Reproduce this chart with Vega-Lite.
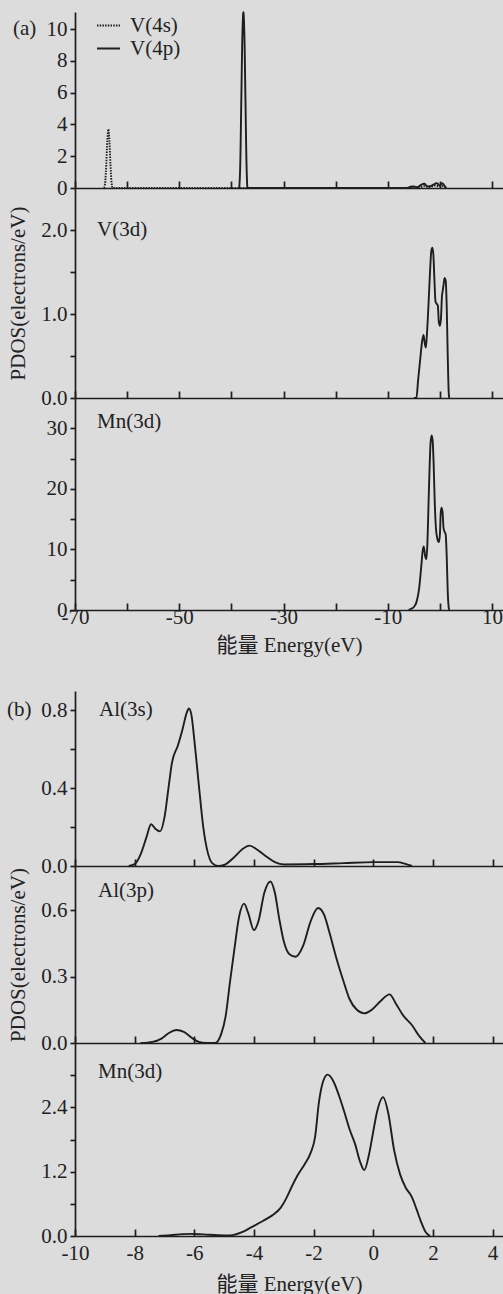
{
  "$schema": "https://vega.github.io/schema/vega-lite/v6.json",
  "background": "#dcdcdc",
  "padding": {"left": 7, "top": 8, "right": 0, "bottom": 0},
  "config": {
    "view": {"stroke": null},
    "font": "Liberation Serif",
    "axis": {"domainColor": "#1e1e1e", "domainWidth": 1.7, "tickColor": "#1e1e1e", "tickWidth": 1.7, "labelColor": "#222", "labelFont": "Liberation Serif", "labelFontSize": 21, "titleFont": "Liberation Serif", "titleFontSize": 21, "titleFontWeight": "normal", "titleColor": "#222", "grid": false, "labelOverlap": false},
    "axisX": {"tickSize": -7, "labelPadding": 4, "labelFlush": false, "labelOverlap": false},
    "axisY": {"tickSize": 5, "labelPadding": 3, "labelOverlap": false},
    "text": {"font": "Liberation Serif", "fontSize": 21, "color": "#222"},
    "line": {"color": "#1e1e1e", "strokeWidth": 1.9, "interpolate": "monotone"}
  },
  "datasets": {
    "a1": [
      {"orbital": "V(4s)", "energy": -64.4, "pdos": 0},
      {"orbital": "V(4s)", "energy": -64.2, "pdos": 0.4},
      {"orbital": "V(4s)", "energy": -64.0, "pdos": 1.5},
      {"orbital": "V(4s)", "energy": -63.8, "pdos": 3.0},
      {"orbital": "V(4s)", "energy": -63.6, "pdos": 3.7},
      {"orbital": "V(4s)", "energy": -63.4, "pdos": 3.0},
      {"orbital": "V(4s)", "energy": -63.2, "pdos": 1.5},
      {"orbital": "V(4s)", "energy": -63.0, "pdos": 0.4},
      {"orbital": "V(4s)", "energy": -62.8, "pdos": 0},
      {"orbital": "V(4s)", "energy": -6.4, "pdos": 0},
      {"orbital": "V(4s)", "energy": -5.2, "pdos": 0.06},
      {"orbital": "V(4s)", "energy": -4.0, "pdos": 0.04},
      {"orbital": "V(4s)", "energy": -3.0, "pdos": 0.12},
      {"orbital": "V(4s)", "energy": -2.0, "pdos": 0.06},
      {"orbital": "V(4s)", "energy": -1.0, "pdos": 0.15},
      {"orbital": "V(4s)", "energy": 0.0, "pdos": 0.1},
      {"orbital": "V(4s)", "energy": 0.6, "pdos": 0.12},
      {"orbital": "V(4s)", "energy": 1.2, "pdos": 0},
      {"orbital": "V(4p)", "energy": -38.5, "pdos": 0},
      {"orbital": "V(4p)", "energy": -38.3, "pdos": 1.5},
      {"orbital": "V(4p)", "energy": -38.1, "pdos": 5.5},
      {"orbital": "V(4p)", "energy": -37.9, "pdos": 9.5},
      {"orbital": "V(4p)", "energy": -37.7, "pdos": 11.05},
      {"orbital": "V(4p)", "energy": -37.5, "pdos": 9.5},
      {"orbital": "V(4p)", "energy": -37.3, "pdos": 5.5},
      {"orbital": "V(4p)", "energy": -37.1, "pdos": 1.5},
      {"orbital": "V(4p)", "energy": -36.9, "pdos": 0},
      {"orbital": "V(4p)", "energy": -6.4, "pdos": 0},
      {"orbital": "V(4p)", "energy": -5.6, "pdos": 0.08},
      {"orbital": "V(4p)", "energy": -5.0, "pdos": 0.1},
      {"orbital": "V(4p)", "energy": -4.4, "pdos": 0.05},
      {"orbital": "V(4p)", "energy": -3.6, "pdos": 0.2},
      {"orbital": "V(4p)", "energy": -3.0, "pdos": 0.27},
      {"orbital": "V(4p)", "energy": -2.4, "pdos": 0.1},
      {"orbital": "V(4p)", "energy": -1.6, "pdos": 0.15},
      {"orbital": "V(4p)", "energy": -0.6, "pdos": 0.3},
      {"orbital": "V(4p)", "energy": 0.0, "pdos": 0.15},
      {"orbital": "V(4p)", "energy": 0.4, "pdos": 0.3},
      {"orbital": "V(4p)", "energy": 0.8, "pdos": 0.18},
      {"orbital": "V(4p)", "energy": 1.2, "pdos": 0}
    ],
    "a2": [
      {"energy": -5.0, "pdos": 0}, {"energy": -4.5, "pdos": 0.0}, {"energy": -4.2, "pdos": 0.2},
      {"energy": -3.8, "pdos": 0.45}, {"energy": -3.4, "pdos": 0.68}, {"energy": -3.15, "pdos": 0.75},
      {"energy": -2.9, "pdos": 0.65}, {"energy": -2.7, "pdos": 0.6}, {"energy": -2.5, "pdos": 0.75},
      {"energy": -2.2, "pdos": 1.1}, {"energy": -1.9, "pdos": 1.5}, {"energy": -1.65, "pdos": 1.75},
      {"energy": -1.45, "pdos": 1.79}, {"energy": -1.25, "pdos": 1.7}, {"energy": -1.05, "pdos": 1.4},
      {"energy": -0.85, "pdos": 1.15}, {"energy": -0.6, "pdos": 1.12}, {"energy": -0.4, "pdos": 1.1},
      {"energy": -0.2, "pdos": 0.9}, {"energy": 0.0, "pdos": 0.86}, {"energy": 0.2, "pdos": 0.95},
      {"energy": 0.4, "pdos": 1.22}, {"energy": 0.5, "pdos": 1.26}, {"energy": 0.7, "pdos": 1.35},
      {"energy": 0.9, "pdos": 1.43}, {"energy": 1.1, "pdos": 1.4}, {"energy": 1.3, "pdos": 1.1},
      {"energy": 1.5, "pdos": 0.5}, {"energy": 1.7, "pdos": 0.05}, {"energy": 1.8, "pdos": 0}
    ],
    "a3": [
      {"energy": -6.0, "pdos": 0}, {"energy": -5.5, "pdos": 0.2}, {"energy": -5.0, "pdos": 0.5},
      {"energy": -4.5, "pdos": 1.3}, {"energy": -4.0, "pdos": 3.5}, {"energy": -3.6, "pdos": 7},
      {"energy": -3.3, "pdos": 9.8}, {"energy": -3.1, "pdos": 10.5}, {"energy": -2.85, "pdos": 9.0},
      {"energy": -2.6, "pdos": 8.4}, {"energy": -2.4, "pdos": 11}, {"energy": -2.2, "pdos": 17},
      {"energy": -2.0, "pdos": 23}, {"energy": -1.8, "pdos": 27.5}, {"energy": -1.6, "pdos": 28.8},
      {"energy": -1.4, "pdos": 28}, {"energy": -1.2, "pdos": 24}, {"energy": -1.0, "pdos": 18},
      {"energy": -0.8, "pdos": 14}, {"energy": -0.5, "pdos": 11.8}, {"energy": -0.2, "pdos": 11.2},
      {"energy": 0.0, "pdos": 12.5}, {"energy": 0.15, "pdos": 16}, {"energy": 0.3, "pdos": 16.9},
      {"energy": 0.5, "pdos": 16.2}, {"energy": 0.7, "pdos": 13.5}, {"energy": 0.9, "pdos": 12.9},
      {"energy": 1.1, "pdos": 12.5}, {"energy": 1.3, "pdos": 9}, {"energy": 1.5, "pdos": 3},
      {"energy": 1.7, "pdos": 0.3}, {"energy": 1.8, "pdos": 0}
    ],
    "b1": [
      {"energy": -8.2, "pdos": 0}, {"energy": -8.0, "pdos": 0.01}, {"energy": -7.8, "pdos": 0.06},
      {"energy": -7.6, "pdos": 0.15}, {"energy": -7.45, "pdos": 0.215}, {"energy": -7.3, "pdos": 0.19},
      {"energy": -7.15, "pdos": 0.178}, {"energy": -7.0, "pdos": 0.25}, {"energy": -6.85, "pdos": 0.42},
      {"energy": -6.75, "pdos": 0.53}, {"energy": -6.55, "pdos": 0.62}, {"energy": -6.4, "pdos": 0.7},
      {"energy": -6.25, "pdos": 0.79}, {"energy": -6.18, "pdos": 0.81}, {"energy": -6.1, "pdos": 0.78},
      {"energy": -6.0, "pdos": 0.65}, {"energy": -5.85, "pdos": 0.42}, {"energy": -5.7, "pdos": 0.2},
      {"energy": -5.55, "pdos": 0.07}, {"energy": -5.4, "pdos": 0.015}, {"energy": -5.2, "pdos": 0.0},
      {"energy": -5.0, "pdos": 0.005}, {"energy": -4.7, "pdos": 0.04}, {"energy": -4.4, "pdos": 0.085},
      {"energy": -4.15, "pdos": 0.105}, {"energy": -3.9, "pdos": 0.085}, {"energy": -3.6, "pdos": 0.05},
      {"energy": -3.3, "pdos": 0.02}, {"energy": -3.0, "pdos": 0.008}, {"energy": -2.0, "pdos": 0.01},
      {"energy": -1.0, "pdos": 0.015}, {"energy": 0.0, "pdos": 0.02}, {"energy": 0.8, "pdos": 0.02},
      {"energy": 1.1, "pdos": 0.01}, {"energy": 1.3, "pdos": 0}
    ],
    "b2": [
      {"energy": -7.8, "pdos": 0}, {"energy": -7.4, "pdos": 0.005}, {"energy": -7.1, "pdos": 0.02},
      {"energy": -6.85, "pdos": 0.045}, {"energy": -6.6, "pdos": 0.059}, {"energy": -6.35, "pdos": 0.05},
      {"energy": -6.1, "pdos": 0.025}, {"energy": -5.85, "pdos": 0.005}, {"energy": -5.6, "pdos": 0},
      {"energy": -5.3, "pdos": 0}, {"energy": -5.1, "pdos": 0.04}, {"energy": -4.95, "pdos": 0.12},
      {"energy": -4.8, "pdos": 0.28}, {"energy": -4.65, "pdos": 0.43}, {"energy": -4.5, "pdos": 0.57},
      {"energy": -4.33, "pdos": 0.63}, {"energy": -4.2, "pdos": 0.59}, {"energy": -4.0, "pdos": 0.51},
      {"energy": -3.85, "pdos": 0.55}, {"energy": -3.65, "pdos": 0.68}, {"energy": -3.45, "pdos": 0.73},
      {"energy": -3.3, "pdos": 0.68}, {"energy": -3.15, "pdos": 0.56}, {"energy": -3.0, "pdos": 0.46},
      {"energy": -2.8, "pdos": 0.4}, {"energy": -2.6, "pdos": 0.39}, {"energy": -2.35, "pdos": 0.44},
      {"energy": -2.1, "pdos": 0.55}, {"energy": -1.85, "pdos": 0.61}, {"energy": -1.65, "pdos": 0.58},
      {"energy": -1.45, "pdos": 0.49}, {"energy": -1.25, "pdos": 0.39}, {"energy": -1.0, "pdos": 0.28},
      {"energy": -0.8, "pdos": 0.2}, {"energy": -0.55, "pdos": 0.15}, {"energy": -0.3, "pdos": 0.134},
      {"energy": -0.05, "pdos": 0.15}, {"energy": 0.25, "pdos": 0.19}, {"energy": 0.55, "pdos": 0.22},
      {"energy": 0.75, "pdos": 0.18}, {"energy": 1.0, "pdos": 0.125}, {"energy": 1.3, "pdos": 0.08},
      {"energy": 1.55, "pdos": 0.03}, {"energy": 1.75, "pdos": 0}
    ],
    "b3": [
      {"energy": -7.2, "pdos": 0}, {"energy": -6.8, "pdos": 0.015}, {"energy": -6.4, "pdos": 0.035},
      {"energy": -6.1, "pdos": 0.04}, {"energy": -5.7, "pdos": 0.03}, {"energy": -5.2, "pdos": 0.015},
      {"energy": -4.8, "pdos": 0.01}, {"energy": -4.4, "pdos": 0.07}, {"energy": -4.1, "pdos": 0.16},
      {"energy": -3.7, "pdos": 0.28}, {"energy": -3.4, "pdos": 0.38}, {"energy": -3.1, "pdos": 0.53},
      {"energy": -2.9, "pdos": 0.72}, {"energy": -2.75, "pdos": 0.9}, {"energy": -2.55, "pdos": 1.12},
      {"energy": -2.3, "pdos": 1.34}, {"energy": -2.1, "pdos": 1.55}, {"energy": -1.95, "pdos": 1.85},
      {"energy": -1.82, "pdos": 2.5}, {"energy": -1.7, "pdos": 2.85}, {"energy": -1.53, "pdos": 3.01},
      {"energy": -1.35, "pdos": 2.9}, {"energy": -1.15, "pdos": 2.62}, {"energy": -0.98, "pdos": 2.33},
      {"energy": -0.8, "pdos": 2.0}, {"energy": -0.6, "pdos": 1.7}, {"energy": -0.45, "pdos": 1.4},
      {"energy": -0.3, "pdos": 1.23}, {"energy": -0.15, "pdos": 1.5}, {"energy": 0.0, "pdos": 1.95},
      {"energy": 0.12, "pdos": 2.3}, {"energy": 0.33, "pdos": 2.59}, {"energy": 0.5, "pdos": 2.3},
      {"energy": 0.7, "pdos": 1.6}, {"energy": 0.9, "pdos": 1.15}, {"energy": 1.08, "pdos": 0.91},
      {"energy": 1.3, "pdos": 0.72}, {"energy": 1.45, "pdos": 0.5}, {"energy": 1.6, "pdos": 0.27},
      {"energy": 1.75, "pdos": 0.08}, {"energy": 1.9, "pdos": 0}
    ]
  },
  "bounds": "flush",
  "spacing": 0,
  "vconcat": [
    {
      "width": 428, "height": 176,
      "layer": [
        {
          "data": {"name": "a1"},
          "mark": {"type": "line"},
          "encoding": {
            "x": {"field": "energy", "type": "quantitative", "scale": {"domain": [-70, 12.1], "nice": false, "zero": false},
                  "axis": {"values": [-70, -60, -50, -40, -30, -20, -10, 0, 10], "tickCount": 50, "labels": false, "title": null}},
            "y": {"field": "pdos", "type": "quantitative", "scale": {"domain": [0, 11.07], "nice": false},
                  "axis": {"values": [0, 2, 4, 6, 8, 10], "tickCount": 50, "labelExpr": "'' + datum.value", "title": null}},
            "strokeDash": {"field": "orbital", "type": "nominal",
              "scale": {"domain": ["V(4s)", "V(4p)"], "range": [[1.5, 1.2], [1, 0]]},
              "legend": {"orient": "none", "legendX": 21, "legendY": 1, "title": null, "symbolType": "stroke", "symbolSize": 529, "symbolStrokeWidth": 1.7, "symbolStrokeColor": "#1e1e1e", "labelFont": "Liberation Serif", "labelFontSize": 21, "labelColor": "#222", "labelOffset": 9, "rowPadding": 0, "padding": 0}}
          }
        },
        {
          "data": {"values": [{}]},
          "mark": {"type": "text", "align": "left", "baseline": "middle", "dx": -62},
          "encoding": {"x": {"datum": -70}, "y": {"datum": 10}, "text": {"value": "(a)"}}
        }
      ]
    },
    {
      "width": 428, "height": 210,
      "layer": [
        {
          "data": {"name": "a2"},
          "mark": {"type": "line"},
          "encoding": {
            "x": {"field": "energy", "type": "quantitative", "scale": {"domain": [-70, 12.1], "nice": false, "zero": false},
                  "axis": {"values": [-70, -60, -50, -40, -30, -20, -10, 0, 10], "tickCount": 50, "labels": false, "title": null}},
            "y": {"field": "pdos", "type": "quantitative", "scale": {"domain": [0, 2.5], "nice": false},
                  "axis": {"values": [0, 0.5, 1, 1.5, 2], "tickCount": 50, "labelExpr": "(datum.value == 0 || datum.value == 1 || datum.value == 2) ? format(datum.value, '.1f') : ''", "title": "PDOS(electrons/eV)", "titlePadding": 12}}
          }
        },
        {
          "data": {"values": [{}]},
          "mark": {"type": "text", "align": "left", "baseline": "middle", "dx": 22},
          "encoding": {"x": {"datum": -70}, "y": {"datum": 2.0}, "text": {"value": "V(3d)"}}
        }
      ]
    },
    {
      "width": 428, "height": 212,
      "layer": [
        {
          "data": {"name": "a3"},
          "mark": {"type": "line"},
          "encoding": {
            "x": {"field": "energy", "type": "quantitative", "scale": {"domain": [-70, 12.1], "nice": false, "zero": false},
                  "axis": {"values": [-70, -60, -50, -40, -30, -20, -10, 0, 10], "tickCount": 50, "labelExpr": "(datum.value + 70) % 20 == 0 ? '' + datum.value : ''", "title": "能量 Energy(eV)", "titleFont": "Liberation Serif, Noto Sans CJK SC", "labelPadding": 3, "titlePadding": 7}},
            "y": {"field": "pdos", "type": "quantitative", "scale": {"domain": [0, 35], "nice": false},
                  "axis": {"values": [0, 5, 10, 15, 20, 25, 30], "tickCount": 50, "labelExpr": "datum.value % 10 == 0 ? '' + datum.value : ''", "title": null}}
          }
        },
        {
          "data": {"values": [{}]},
          "mark": {"type": "text", "align": "left", "baseline": "middle", "dx": 22},
          "encoding": {"x": {"datum": -70}, "y": {"datum": 31}, "text": {"value": "Mn(3d)"}}
        }
      ]
    },
    {
      "width": 428, "height": 81,
      "data": {"values": [{}]},
      "mark": {"type": "text"},
      "encoding": {"text": {"value": ""}}
    },
    {
      "width": 428, "height": 175,
      "layer": [
        {
          "data": {"name": "b1"},
          "mark": {"type": "line"},
          "encoding": {
            "x": {"field": "energy", "type": "quantitative", "scale": {"domain": [-10, 4.35], "nice": false, "zero": false},
                  "axis": {"values": [-10, -8, -6, -4, -2, 0, 2, 4], "tickCount": 50, "labels": false, "title": null}},
            "y": {"field": "pdos", "type": "quantitative", "scale": {"domain": [0, 0.9], "nice": false},
                  "axis": {"values": [0, 0.2, 0.4, 0.6, 0.8], "tickCount": 50, "labelExpr": "(datum.value == 0 || datum.value == 0.4 || datum.value == 0.8) ? format(datum.value, '.1f') : ''", "title": null}}
          }
        },
        {
          "data": {"values": [{}]},
          "mark": {"type": "text", "align": "left", "baseline": "middle", "dx": 24},
          "encoding": {"x": {"datum": -10}, "y": {"datum": 0.8}, "text": {"value": "Al(3s)"}}
        },
        {
          "data": {"values": [{}]},
          "mark": {"type": "text", "align": "left", "baseline": "middle", "dx": -68},
          "encoding": {"x": {"datum": -10}, "y": {"datum": 0.8}, "text": {"value": "(b)"}}
        }
      ]
    },
    {
      "width": 428, "height": 177,
      "layer": [
        {
          "data": {"name": "b2"},
          "mark": {"type": "line"},
          "encoding": {
            "x": {"field": "energy", "type": "quantitative", "scale": {"domain": [-10, 4.35], "nice": false, "zero": false},
                  "axis": {"values": [-10, -8, -6, -4, -2, 0, 2, 4], "tickCount": 50, "labels": false, "title": null}},
            "y": {"field": "pdos", "type": "quantitative", "scale": {"domain": [0, 0.8], "nice": false},
                  "axis": {"values": [0, 0.3, 0.6], "tickCount": 50, "format": ".1f", "title": "PDOS(electrons/eV)", "titlePadding": 12}}
          }
        },
        {
          "data": {"values": [{}]},
          "mark": {"type": "text", "align": "left", "baseline": "middle", "dx": 23},
          "encoding": {"x": {"datum": -10}, "y": {"datum": 0.686}, "text": {"value": "Al(3p)"}}
        }
      ]
    },
    {
      "width": 428, "height": 193,
      "layer": [
        {
          "data": {"name": "b3"},
          "mark": {"type": "line"},
          "encoding": {
            "x": {"field": "energy", "type": "quantitative", "scale": {"domain": [-10, 4.35], "nice": false, "zero": false},
                  "axis": {"values": [-10, -8, -6, -4, -2, 0, 2, 4], "tickCount": 50, "labelExpr": "'' + datum.value", "title": "能量 Energy(eV)", "titleFont": "Liberation Serif, Noto Sans CJK SC", "labelPadding": 13, "titlePadding": 10}},
            "y": {"field": "pdos", "type": "quantitative", "scale": {"domain": [0, 3.6], "nice": false},
                  "axis": {"values": [0, 0.6, 1.2, 1.8, 2.4, 3.0], "tickCount": 50, "labelExpr": "(datum.value == 0 || datum.value == 1.2 || datum.value == 2.4) ? format(datum.value, '.1f') : ''", "title": null}}
          }
        },
        {
          "data": {"values": [{}]},
          "mark": {"type": "text", "align": "left", "baseline": "middle", "dx": 23},
          "encoding": {"x": {"datum": -10}, "y": {"datum": 3.05}, "text": {"value": "Mn(3d)"}}
        }
      ]
    }
  ]
}
